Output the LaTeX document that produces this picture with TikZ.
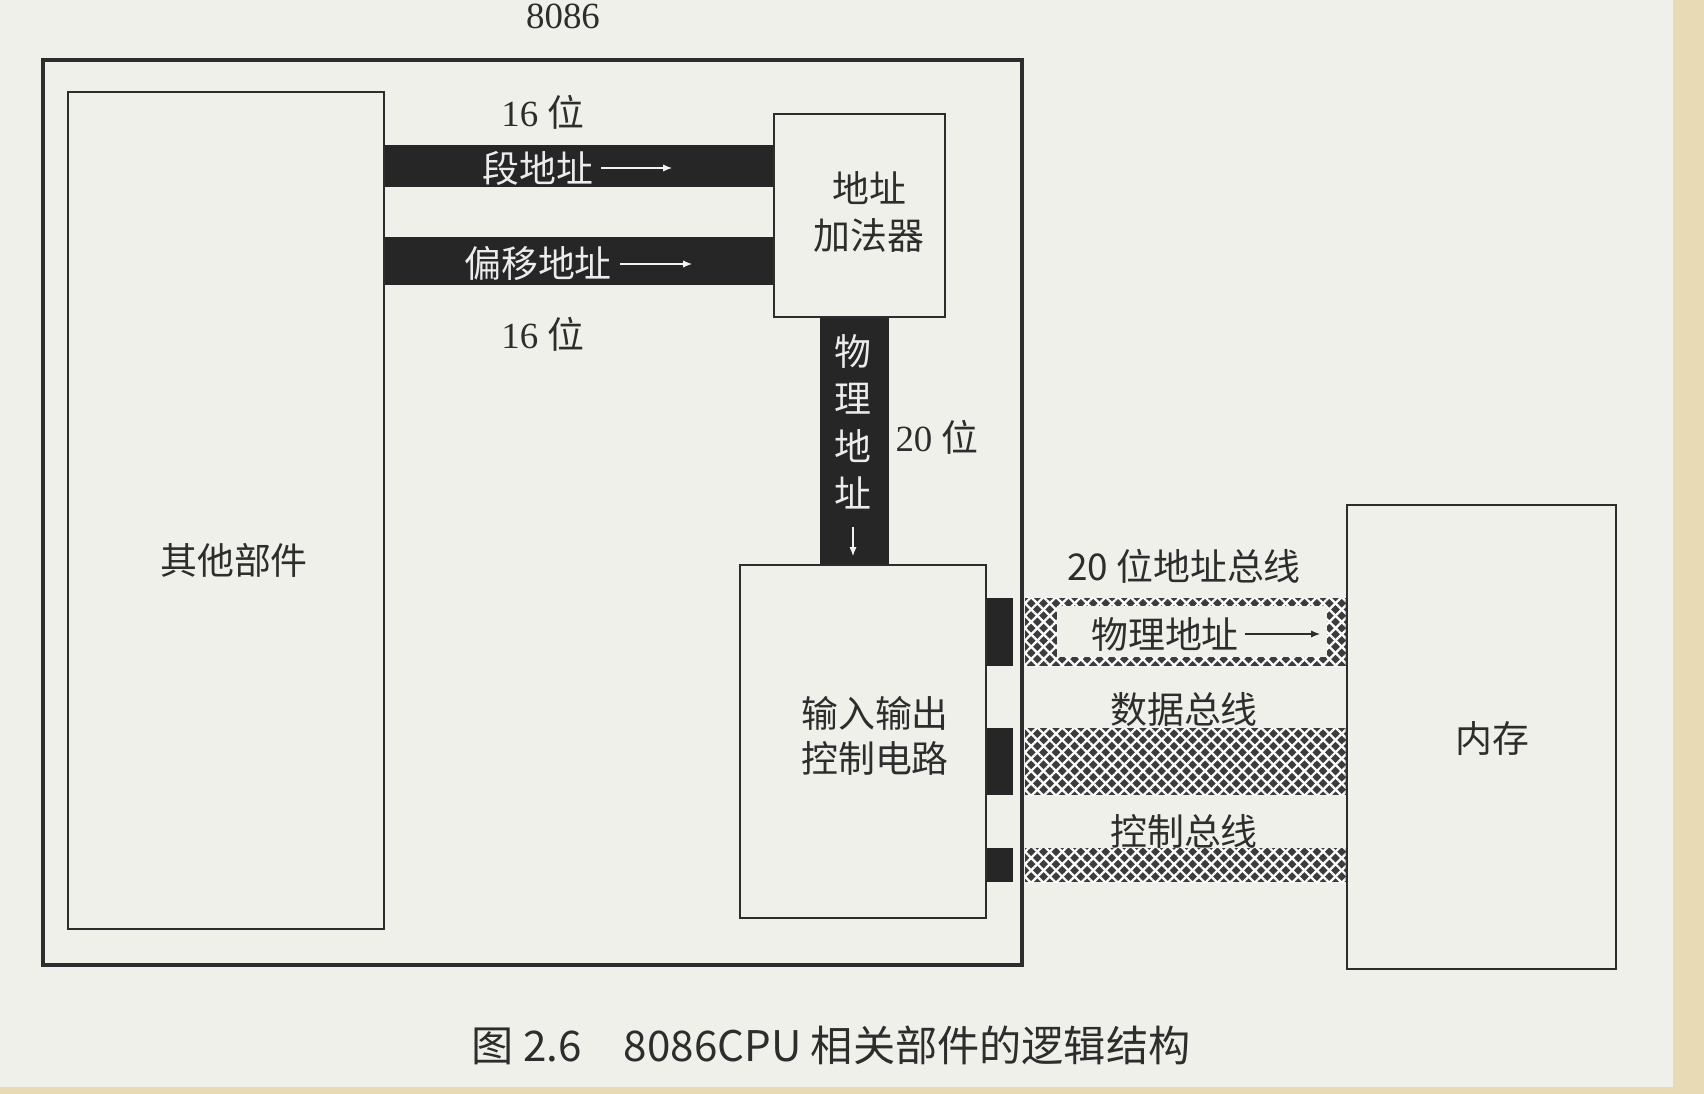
\documentclass[tikz,border=0pt]{standalone}
\usepackage{fontspec}
\setmainfont{Liberation Serif}
\newfontfamily\cjk{Noto Sans CJK SC}
\usetikzlibrary{arrows.meta,patterns.meta}

\definecolor{paper}{RGB}{240,240,235}
\definecolor{scanedge}{RGB}{232,218,180}
\definecolor{ink}{RGB}{45,45,45}
\definecolor{busdark}{RGB}{38,38,38}
\definecolor{hatchbase}{RGB}{60,60,60}

\begin{document}
\begin{tikzpicture}[x=0.02cm,y=-0.02cm,
  box/.style={draw=ink,line width=1.6pt,fill=paper,inner sep=0pt},
  lbl/.style={text=ink,font=\fontsize{21}{26}\selectfont\cjk,inner sep=1pt},
  barlbl/.style={text=gray!15,font=\fontsize{21}{26}\selectfont\cjk,inner sep=1pt},
  bartip/.style={draw=gray!10,line width=0.6pt,-{Latex[length=5pt,width=4pt]}},
  hatch/.style={pattern={Lines[angle=45,distance=5pt,line width=1.3pt]},pattern color=white},
  hatchb/.style={pattern={Lines[angle=-45,distance=5pt,line width=1.3pt]},pattern color=white}]
  \useasboundingbox (0,0) rectangle (1704,1094);
  % paper and scan edge
  \fill[paper] (0,0) rectangle (1704,1094);
  \fill[scanedge] (1673,0) rectangle (1704,1094);
  \fill[scanedge] (0,1087) rectangle (1704,1094);

  % 8086 frame
  \node[box,line width=2.4pt,minimum width=19.58cm,minimum height=18.1cm] (cpu) at (532.5,512.5) {};
  \node[text=ink,font=\fontsize{21}{26}\selectfont] (cpulbl) at (563,16) {8086};

  % boxes
  \node[box,minimum width=6.32cm,minimum height=16.74cm] (other) at (226,510.5) {};
  \node[lbl] (otherlbl) at (234,560) {其他部件};
  \node[box,minimum width=3.42cm,minimum height=4.06cm] (adder) at (859.5,215.5) {};
  \node[lbl,align=center,font=\fontsize{21}{27}\selectfont\cjk] (adderlbl) at (869,212) {地址\\加法器};
  \node[box,minimum width=4.92cm,minimum height=7.06cm] (io) at (863,741.5) {};
  \node[lbl,align=center] (iolbl) at (875,736) {输入输出\\控制电路};
  \node[box,minimum width=5.38cm,minimum height=9.28cm] (mem) at (1481.5,737) {};
  \node[lbl] (memlbl) at (1492,739) {内存};

  % 16 bit buses into the adder
  \fill[busdark] (other.east |- 0,145) rectangle (adder.west |- 0,187);
  \fill[busdark] (other.east |- 0,237) rectangle (adder.west |- 0,285);
  \node[barlbl] (seg) at (538,168) {段地址};
  \coordinate (segend) at (672,168);
  \draw[bartip] (seg.east) ++(6,0) -- (segend);
  \node[barlbl] (off) at (538,264) {偏移地址};
  \coordinate (offend) at (692,264);
  \draw[bartip] (off.east) ++(6,0) -- (offend);
  \node[text=ink,font=\fontsize{21}{26}\selectfont] (wa) at (543,112) {16 {\cjk 位}};
  \node[text=ink,font=\fontsize{21}{26}\selectfont] (wb) at (543,334) {16 {\cjk 位}};

  % 20 bit bus down to the io circuit
  \fill[busdark] (820,0 |- adder.south) rectangle (889,0 |- io.north);
  \node[barlbl,align=center,font=\fontsize{21}{27}\selectfont\cjk] (phys) at (853,422) {物\\理\\地\\址};
  \coordinate (physend) at (853,556);
  \draw[bartip] (853,527) -- (physend);
  \node[text=ink,font=\fontsize{21}{26}\selectfont] (wc) at (937,437) {20 {\cjk 位}};

  % system buses to memory
  \foreach \top/\bot in {598/666,728/795,848/882} {
    \fill[busdark] (io.east |- 0,\top) rectangle (1013,\bot);
    \fill[hatchbase] (1025,\top) rectangle (mem.west |- 0,\bot);
    \fill[hatch] (1025,\top) rectangle (mem.west |- 0,\bot);
    \fill[hatchb] (1025,\top) rectangle (mem.west |- 0,\bot);
  }
  \fill[paper] (1057,606) rectangle (1327,657);
  \node[lbl] (addr) at (1165,634) {物理地址};
  \coordinate (addrend) at (1320,634);
  \draw[draw=ink,line width=0.6pt,-{Latex[length=5pt,width=4pt]}] (addr.east) ++(4,0) -- (addrend);
  \node[lbl] (abus) at (1184,566) {20 位地址总线};
  \node[lbl] (dbus) at (1184,709) {数据总线};
  \node[lbl] (cbus) at (1184,831) {控制总线};

  % caption
  \node[text=ink,font=\fontsize{24}{28}\selectfont\cjk] (cap) at (831,1045) {图 2.6\quad 8086CPU 相关部件的逻辑结构};
\end{tikzpicture}
\end{document}
